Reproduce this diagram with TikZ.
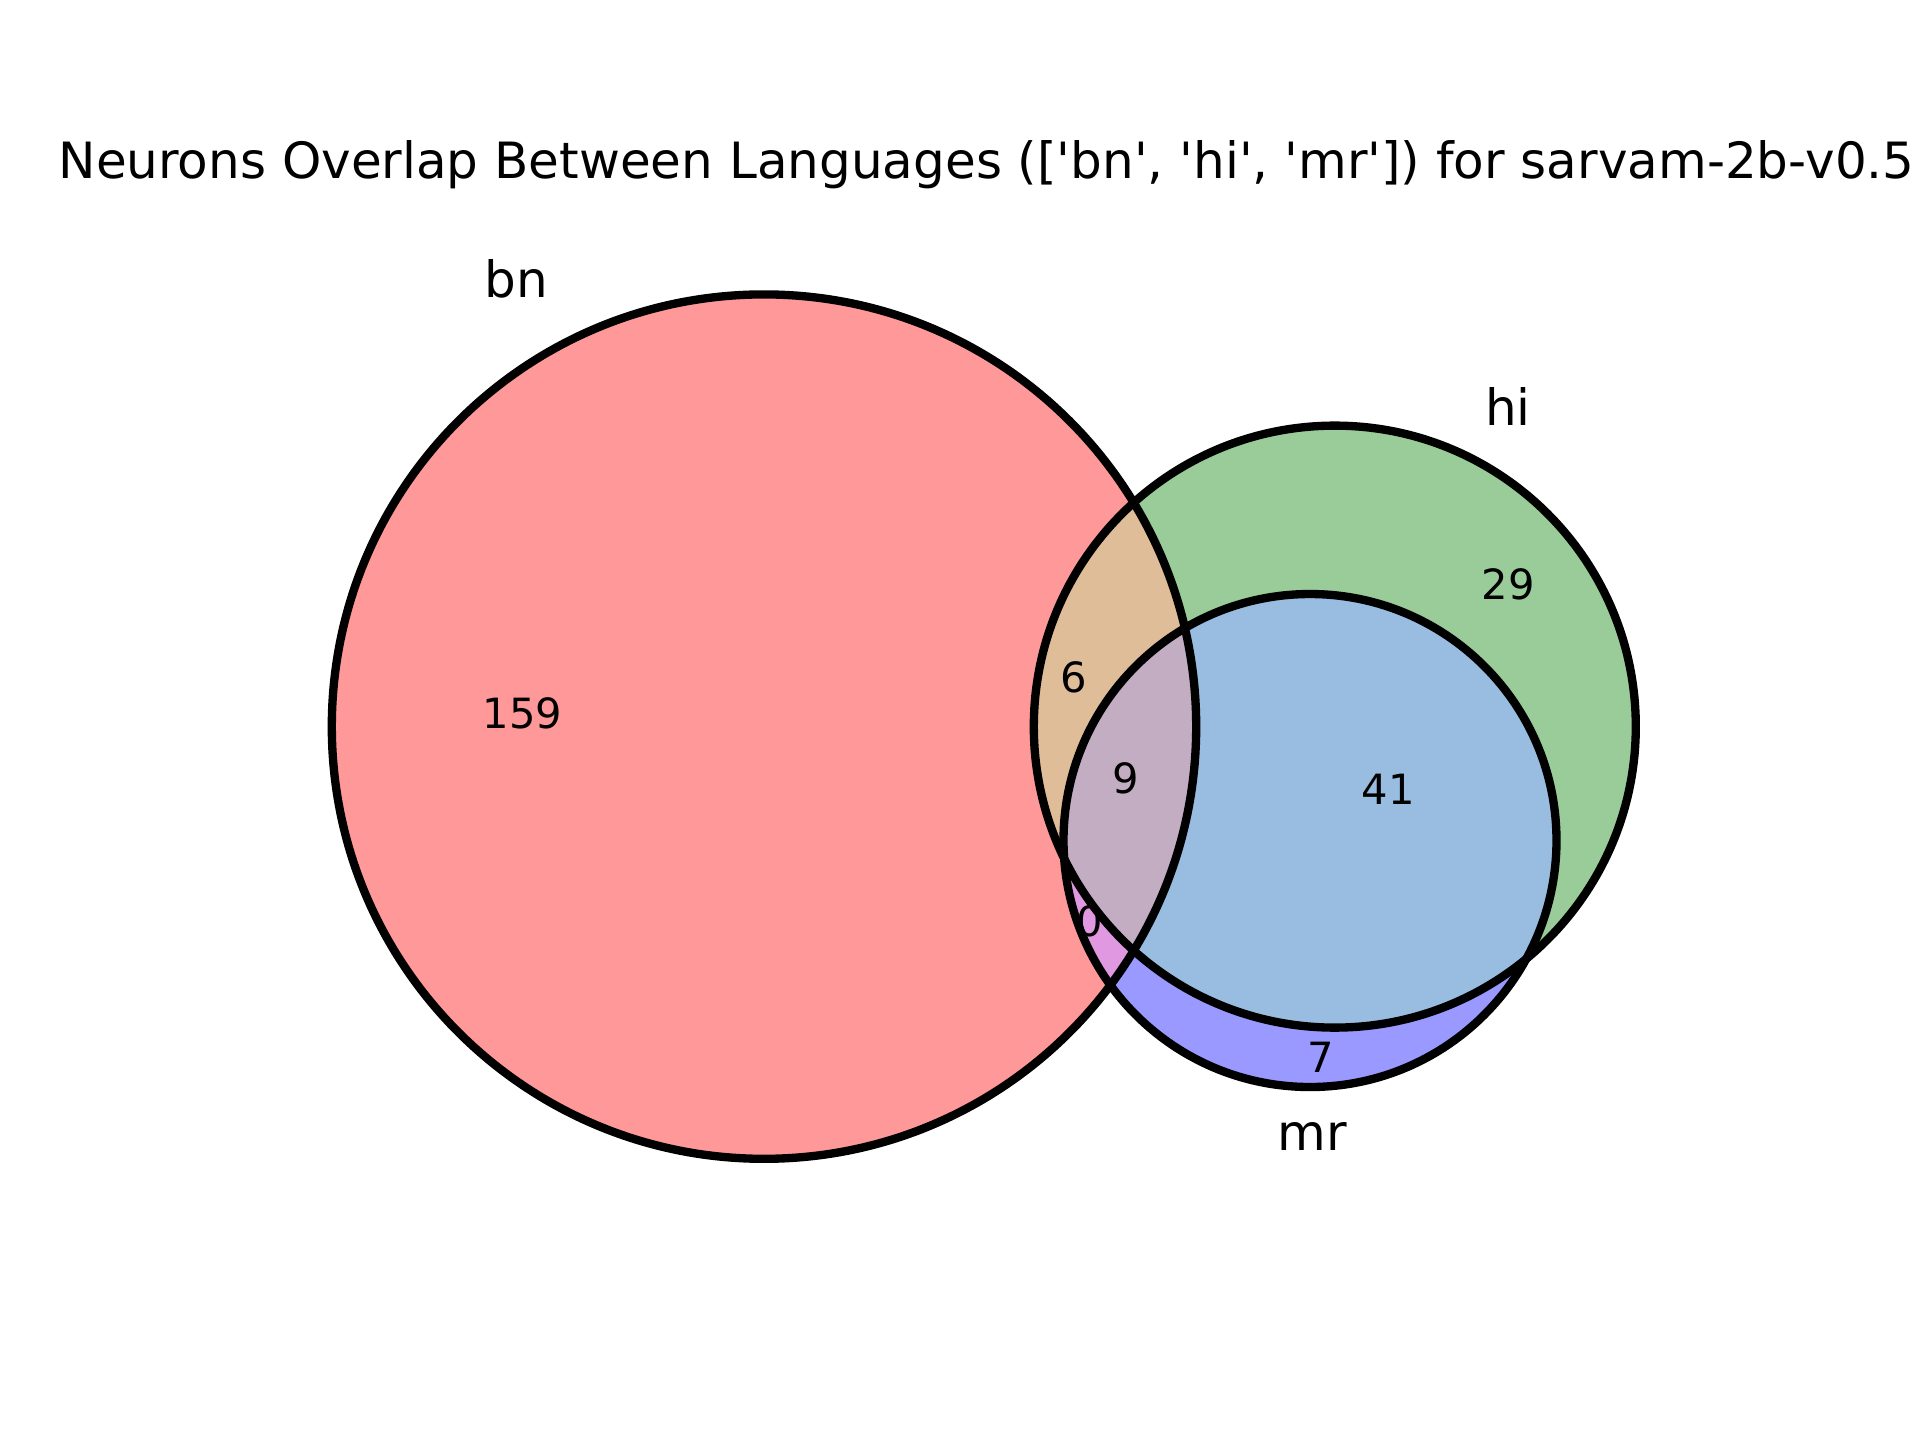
\documentclass[tikz,border=0pt]{standalone}
\usepackage{fontspec}
\newfontfamily\dvs{DejaVu Sans}
\definecolor{cA}{RGB}{255,153,153}
\definecolor{cB}{RGB}{153,204,153}
\definecolor{cC}{RGB}{153,153,255}
\definecolor{cAB}{RGB}{224,189,153}
\definecolor{cAC}{RGB}{224,153,224}
\definecolor{cBC}{RGB}{153,189,224}
\definecolor{cABC}{RGB}{194,173,194}
\begin{document}
\begin{tikzpicture}[x=0.24pt,y=-0.24pt,
  outline/.style={draw=black,line width=2pt},
  setlab/.style={anchor=base,inner sep=0pt,font=\dvs\fontsize{12}{14}\selectfont},
  sublab/.style={anchor=center,inner sep=0pt,font=\dvs\fontsize{10}{12}\selectfont},
  titlelab/.style={anchor=base,inner sep=0pt,font=\dvs\fontsize{12}{14}\selectfont}]
\useasboundingbox[fill=white] (0,0) rectangle (1920,1440);
\coordinate (cbn) at (764,726.6);
\coordinate (chi) at (1334.8,726.6);
\coordinate (cmr) at (1310,840.5);
% single regions
\fill[cA] (cbn) circle[radius=103.73pt];
\fill[cB] (chi) circle[radius=72.24pt];
\fill[cC] (cmr) circle[radius=59.16pt];
% pairwise
\begin{scope}
  \clip (cbn) circle[radius=103.73pt];
  \fill[cAB] (chi) circle[radius=72.24pt];
\end{scope}
\begin{scope}
  \clip (cbn) circle[radius=103.73pt];
  \fill[cAC] (cmr) circle[radius=59.16pt];
\end{scope}
\begin{scope}
  \clip (chi) circle[radius=72.24pt];
  \fill[cBC] (cmr) circle[radius=59.16pt];
\end{scope}
% triple
\begin{scope}
  \clip (cbn) circle[radius=103.73pt];
  \clip (chi) circle[radius=72.24pt];
  \fill[cABC] (cmr) circle[radius=59.16pt];
\end{scope}
% subset labels
\node[sublab] (l100) at (522.5,713.5) {159};
\node[sublab] (l010) at (1508,584) {29};
\node[sublab] (l110) at (1074,677) {6};
\node[sublab] (l001) at (1321,1057) {7};
\node[sublab] (l101) at (1090,921) {0};
\node[sublab] (l011) at (1388,789) {41};
\node[sublab] (l111) at (1126,778) {9};
% outlines
\draw[outline] (cbn) circle[radius=103.73pt];
\draw[outline] (chi) circle[radius=72.24pt];
\draw[outline] (cmr) circle[radius=59.16pt];
% set labels
\node[setlab] (sbn) at (516,297) {bn};
\node[setlab] (shi) at (1508,425) {hi};
\node[setlab] (smr) at (1312,1150) {mr};
% title
\node[titlelab] (title) at (986.5,178) {Neurons Overlap Between Languages (['bn', 'hi', 'mr']) for sarvam-2b-v0.5};
\end{tikzpicture}
\end{document}
